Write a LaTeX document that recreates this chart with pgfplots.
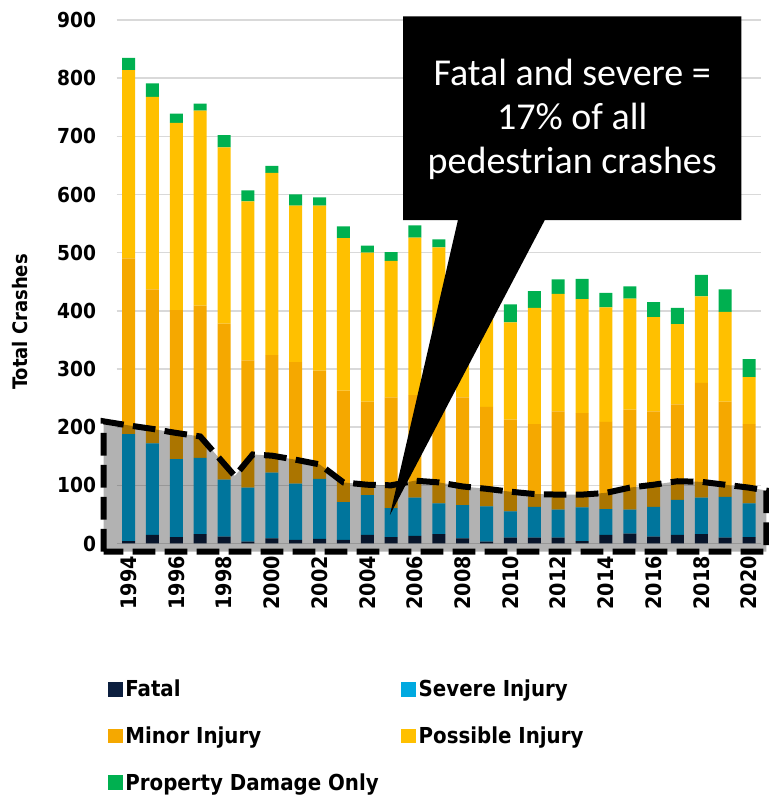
\documentclass[border=0pt]{standalone}
\usepackage{fontspec}
\setmainfont{DejaVu Sans Condensed}
\newfontfamily\calibri{Carlito}
\usepackage{pgfplots}
\usepackage{pgfplotstable}
\pgfplotsset{compat=1.18}

\definecolor{cFatal}{HTML}{0C1F3F}
\definecolor{cSevere}{HTML}{00A9E0}
\definecolor{cMinor}{HTML}{F5A800}
\definecolor{cPossible}{HTML}{FFC000}
\definecolor{cPDO}{HTML}{00B050}
\definecolor{gridgray}{HTML}{D9D9D9}

% crashes per year by severity
\pgfplotstableread{
year fatal severe minor possible pdo
1994 4 184 302 324 21
1995 15 157 265 331 23
1996 11 134 256 322 16
1997 16 131 262 335 12
1998 12 98 268 303 21
1999 3 93 219 273 19
2000 9 113 202 313 12
2001 6 97 209 269 19
2002 8 103 186 284 14
2003 6 65 192 262 20
2004 15 68 161 256 12
2005 11 50 190 235 15
2006 13 66 176 271 21
2007 16 53 176 264 14
2008 9 57 185 204 20
2009 3 61 171 170 20
2010 10 45 158 167 31
2011 10 53 142 200 29
2012 10 48 169 202 25
2013 4 58 162 196 35
2014 15 44 150 197 25
2015 17 41 172 191 21
2016 12 51 164 162 26
2017 15 60 164 138 28
2018 16 63 197 149 37
2019 10 70 164 154 39
2020 11 58 136 81 31
}\crashes

\pgfplotsset{common/.style={
  width=483.2pt, height=392.6pt, scale only axis,
  xmin=1993.5, xmax=2020.5, ymin=0, ymax=900}}

\begin{document}
\begin{tikzpicture}
\begin{axis}[common,
  ybar stacked, bar width=9.75pt,
  axis line style={draw=none},
  ymajorgrids, grid style={draw=gridgray, line width=1.2pt},
  major tick length=0pt,
  xtick={1994,1996,...,2020}, ytick={0,100,...,900},
  /pgf/number format/assume math mode=true,
  /pgf/number format/set thousands separator={},
  y tick label style={font=\bfseries\fontsize{15.5}{18}\selectfont, xshift=-12pt},
  x tick label style={font=\bfseries\fontsize{16}{18}\selectfont,
    yshift=-6pt, rotate=90, anchor=east},
  ylabel={Total Crashes},
  every axis y label/.style={at={(rel axis cs:-0.150,0.423)}, rotate=90, anchor=center,
    font=\bfseries\fontsize{15}{17}\selectfont},
  legend style={at={(-0.02,-0.25)}, anchor=north west, draw=none, fill=none,
    legend columns=2, font=\bfseries\fontsize{16.5}{19}\selectfont, row sep=17pt,
    /tikz/every even column/.append style={column sep=15pt}},
  legend cell align=left,
  legend image code/.code={\fill[#1] (0pt,-5.5pt) rectangle (11pt,5.5pt);},
]
\addplot[fill=cFatal, draw=none] table[x=year, y=fatal] {\crashes};
\addplot[fill=cSevere, draw=none] table[x=year, y=severe] {\crashes};
\addplot[fill=cMinor, draw=none] table[x=year, y=minor] {\crashes};
\addplot[fill=cPossible, draw=none] table[x=year, y=possible] {\crashes};
\addplot[fill=cPDO, draw=none] table[x=year, y=pdo] {\crashes};
\legend{Fatal, Severe Injury, Minor Injury, Possible Injury, Property Damage Only}
\end{axis}

\begin{axis}[common, hide axis, clip=false]
% shaded band over fatal + severe
\addplot[fill=black, fill opacity=0.3, draw=none] coordinates {
  (1992.95,-14) (1992.95,210) (1994,203) (1995,197) (1996,190) (1997,184)
  (1998.45,116) (1999.2,153) (2000,151) (2001,144) (2002,136) (2003,105)
  (2004,101) (2005,100) (2006,108) (2007,105) (2008,98) (2009,94) (2010,89)
  (2011,85) (2012,84) (2013,84) (2014,87) (2015,96) (2016,101) (2017,107)
  (2018,106) (2019,101) (2020,96) (2020.72,91) (2020.72,-14)} --cycle;
\addplot[black, line width=4.5pt, dash pattern=on 17pt off 7pt] coordinates {
  (1992.95,-14) (1992.95,210) (1994,203) (1995,197) (1996,190) (1997,184)
  (1998.45,116) (1999.2,153) (2000,151) (2001,144) (2002,136) (2003,105)
  (2004,101) (2005,100) (2006,108) (2007,105) (2008,98) (2009,94) (2010,89)
  (2011,85) (2012,84) (2013,84) (2014,87) (2015,96) (2016,101) (2017,107)
  (2018,106) (2019,101) (2020,96) (2020.72,91) (2020.72,-14)} --cycle;
% callout
\addplot[fill=black, draw=none] coordinates {
  (2005.5,906) (2019.68,906) (2019.68,556) (2011.44,556) (2004.95,49)
  (2007.8,556) (2005.5,556)} --cycle;
\node[text=white, align=center, font=\calibri\fontsize{28.5}{33}\selectfont]
  at (axis cs:2012.59,729) {Fatal and severe =\\17\% of all\\pedestrian crashes};
\coordinate (bbA) at (rel axis cs:-0.1811,-0.4900);
\coordinate (bbB) at (rel axis cs:1.0124,1.0382);
\end{axis}
\pgfresetboundingbox
\useasboundingbox (bbA) rectangle (bbB);
\end{tikzpicture}
\end{document}
